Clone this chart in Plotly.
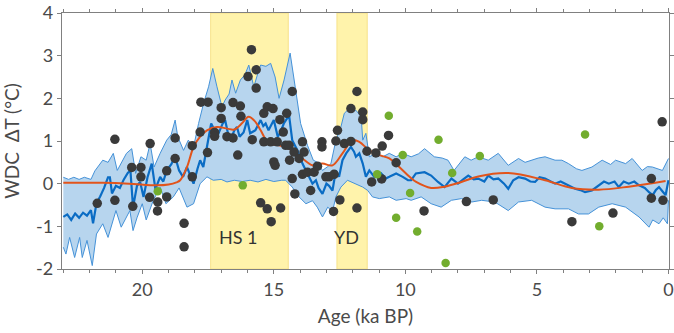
import plotly.graph_objects as go

# ---- blue mean line (age ka BP, dT) ----
mean_age = [23.0, 22.85, 22.7, 22.55, 22.4, 22.25, 22.1, 21.95, 21.87, 21.74, 21.6, 21.45, 21.3, 21.23, 21.15,
            21.0, 20.85, 20.7, 20.55, 20.45, 20.35, 20.2, 20.08, 19.95, 19.8, 19.64, 19.5, 19.32, 19.2, 19.07,
            18.9, 18.75, 18.6, 18.45, 18.3, 18.15, 18.05, 17.9, 17.8, 17.68, 17.55, 17.48, 17.38, 17.25, 17.1,
            16.95, 16.85, 16.75, 16.65, 16.5, 16.4, 16.3, 16.15, 16.01, 15.9, 15.7, 15.5, 15.4, 15.31, 15.2,
            15.0, 14.85, 14.75, 14.62, 14.42, 14.3, 14.1, 13.91, 13.72, 13.6, 13.53, 13.4, 13.3, 13.15, 13.0,
            12.9, 12.77, 12.64, 12.52, 12.39, 12.25, 12.07, 11.95, 11.88, 11.75, 11.62, 11.5, 11.37, 11.18, 10.92,
            10.75, 10.61, 10.35, 10.1, 9.9, 9.78, 9.6, 9.27, 9.02, 8.76, 8.51, 8.25, 8.0, 7.8, 7.61,
            7.4, 7.23, 7.0, 6.85, 6.65, 6.47, 6.25, 6.09, 5.9, 5.7, 5.45, 5.25, 5.07, 4.9, 4.69,
            4.5, 4.31, 4.1, 3.93, 3.75, 3.55, 3.35, 3.17, 2.91, 2.65, 2.45, 2.27, 2.05, 1.89, 1.7,
            1.51, 1.3, 1.12, 0.9, 0.74, 0.6, 0.48, 0.36, 0.2, 0.11, 0.0]
mean_val = [-0.78, -0.72, -0.85, -0.70, -0.80, -0.68, -0.75, -0.62, -0.93, -0.46, -0.30, -0.10, 0.15, 0.15, -0.23,
            -0.05, -0.10, 0.10, 0.25, 0.31, -0.55, -0.05, 0.04, -0.31, 0.15, 0.47, -0.13, 0.16, 0.05, 0.31,
            0.45, 0.63, 0.31, 0.16, 0.39, 0.15, 0.0, 0.35, 0.55, 0.39, 0.80, 1.02, 1.41, 1.25, 1.18,
            1.40, 1.49, 1.20, 1.02, 1.25, 1.33, 1.10, 1.20, 1.49, 1.18, 1.25, 1.49, 1.35, 1.41, 1.25,
            1.49, 1.10, 1.20, 1.41, 1.60, 1.02, 0.78, 0.47, 0.24, 0.10, 0.0, 0.08, -0.10, -0.24, 0.0,
            -0.05, -0.16, 0.31, 0.16, 0.55, 0.71, 0.86, 0.75, 0.63, 0.71, 0.47, 0.16, 0.31, 0.16, 0.24,
            0.12, 0.16, 0.24, 0.16, 0.08, 0.08, 0.24, 0.27, 0.19, 0.04, -0.08, 0.12, 0.0, 0.10, 0.19,
            0.10, 0.12, 0.05, 0.19, 0.10, 0.12, 0.0, -0.12, 0.08, 0.15, 0.12, 0.05, 0.04, 0.15, 0.12,
            0.05, 0.0, 0.05, 0.0, -0.05, -0.12, -0.15, -0.20, -0.16, -0.04, 0.05, 0.0, 0.05, -0.08, 0.05,
            0.0, 0.05, -0.04, -0.10, -0.20, -0.27, -0.15, -0.08, -0.20, -0.27, 0.08]

# ---- uncertainty band ----
up_age = [23.0, 22.8, 22.6, 22.4, 22.2, 21.95, 21.8, 21.5, 21.3, 21.1, 20.95, 20.75, 20.6, 20.4, 20.25,
          20.05, 19.85, 19.7, 19.55, 19.32, 19.07, 18.9, 18.75, 18.65, 18.43, 18.25, 18.05, 17.86, 17.67, 17.48,
          17.32, 17.16, 16.97, 16.85, 16.7, 16.59, 16.45, 16.27, 16.1, 15.95, 15.76, 15.6, 15.5, 15.3, 15.12,
          14.95, 14.8, 14.61, 14.38, 14.17, 13.98, 13.72, 13.5, 13.34, 13.15, 12.95, 12.83, 12.64, 12.45, 12.32,
          12.2, 11.88, 11.68, 11.62, 11.5, 11.37, 11.11, 10.86, 10.61, 10.35, 10.1, 9.78, 9.5, 9.27, 8.9,
          8.6, 8.38, 8.15, 7.74, 7.5, 7.23, 6.85, 6.47, 6.09, 5.7, 5.45, 5.2, 4.95, 4.69, 4.31,
          4.05, 3.8, 3.5, 3.29, 2.91, 2.52, 2.2, 2.01, 1.63, 1.38, 1.0, 0.8, 0.61, 0.23, 0.0]
up_val = [0.15, 0.10, 0.15, 0.10, 0.15, 0.10, 0.30, 0.55, 0.50, 0.71, 0.31, 0.55, 0.71, 0.82, 0.24,
          0.63, 0.55, 0.94, 0.39, 0.71, 1.02, 1.15, 1.49, 1.10, 0.78, 1.02, 0.86, 1.41, 1.88, 2.27,
          2.70, 2.27, 1.80, 1.96, 2.10, 2.43, 2.12, 2.43, 2.55, 2.78, 2.27, 2.60, 2.78, 2.75, 2.82,
          2.50, 2.00, 2.43, 3.06, 2.20, 1.41, 0.90, 0.55, 0.50, 0.31, 0.40, 0.47, 1.02, 1.33, 1.65,
          1.72, 1.72, 1.57, 1.02, 1.18, 0.63, 0.71, 0.63, 0.71, 0.63, 0.71, 0.63, 0.70, 0.82, 0.63,
          0.60, 0.55, 0.31, 0.63, 0.55, 0.63, 0.55, 0.71, 0.43, 0.59, 0.50, 0.55, 0.60, 0.63, 0.55,
          0.55, 0.47, 0.35, 0.31, 0.39, 0.55, 0.45, 0.55, 0.47, 0.59, 0.31, 0.40, 0.39, 0.31, 0.59]
lo_age = [23.0, 22.9, 22.76, 22.57, 22.38, 22.28, 22.1, 21.9, 21.74, 21.5, 21.3, 21.0, 20.8, 20.47, 20.35,
          20.2, 20.0, 19.85, 19.58, 19.32, 19.1, 18.82, 18.6, 18.3, 18.05, 17.8, 17.54, 17.3, 17.0, 16.78,
          16.5, 16.2, 15.9, 15.6, 15.3, 15.0, 14.7, 14.55, 14.3, 14.04, 13.78, 13.53, 13.35, 13.15, 12.95,
          12.77, 12.64, 12.45, 12.2, 11.88, 11.62, 11.43, 11.25, 10.99, 10.61, 10.35, 9.97, 9.78, 9.4, 9.02,
          8.64, 8.25, 7.87, 7.48, 7.1, 6.6, 6.09, 5.7, 5.2, 4.69, 4.31, 3.8, 3.42, 3.04, 2.65,
          2.14, 1.63, 1.12, 0.74, 0.6, 0.36, 0.2, 0.04, 0.0]
lo_val = [-1.49, -1.65, -1.26, -1.73, -1.26, -1.73, -1.33, -1.92, -1.18, -0.94, -1.26, -0.63, -1.02, -0.63, -1.10,
          -0.80, -0.47, -0.85, -0.39, -0.08, -0.47, -0.31, -0.10, -0.55, -0.47, 0.0, 0.16, 0.08, 0.10, 0.04,
          0.08, 0.05, 0.08, 0.04, 0.10, 0.05, 0.08, 0.08, -0.08, -0.31, -0.47, -0.40, -0.55, -0.78, -0.55,
          -0.65, -0.31, -0.08, 0.08, 0.0, -0.08, -0.16, -0.31, -0.35, -0.31, -0.39, -0.35, -0.39, -0.31, -0.47,
          -0.55, -0.39, -0.35, -0.43, -0.39, -0.43, -0.63, -0.43, -0.39, -0.55, -0.59, -0.59, -0.71, -0.71, -0.55,
          -0.47, -0.55, -0.78, -1.02, -0.85, -0.94, -0.80, -0.94, -0.39]

# ---- smooth red curve ----
red_age = [23.0, 21.5, 20.5, 19.45, 19.0, 18.7, 18.56, 18.3, 18.05, 17.8, 17.54, 17.16, 16.77, 16.5, 16.2,
           15.96, 15.7, 15.5, 15.18, 14.8, 14.42, 14.17, 13.91, 13.53, 13.15, 12.77, 12.39, 12.0, 11.75, 11.37,
           10.99, 10.61, 10.23, 9.84, 9.59, 9.02, 8.51, 7.87, 7.23, 6.09, 4.69, 3.67, 2.65, 1.51, 0.11]
red_val = [0.02, 0.02, 0.0, -0.04, -0.02, 0.03, 0.08, 0.39, 0.86, 1.10, 1.25, 1.33, 1.29, 1.27, 1.42,
           1.57, 1.45, 1.25, 0.94, 0.90, 0.82, 0.71, 0.59, 0.43, 0.47, 0.43, 0.71, 1.02, 0.98, 0.78,
           0.67, 0.59, 0.39, 0.16, 0.04, -0.10, -0.07, 0.04, 0.17, 0.25, 0.08, -0.10, -0.14, -0.07, 0.06]

# ---- dark grey proxy points ----
grey_age = [21.71, 21.04, 21.04, 20.40, 20.05, 20.05, 20.36, 19.70, 19.72, 19.41, 19.42, 19.07, 19.07, 18.75, 18.75,
            18.41, 18.41, 18.10, 18.10, 17.80, 17.77, 17.50, 17.52, 17.25, 17.25, 17.00, 17.00, 16.78, 16.55, 16.55,
            16.37, 16.27, 16.25, 15.98, 15.85, 15.67, 15.67, 15.82, 15.38, 15.25, 15.03, 15.38, 15.12, 14.87, 14.77,
            14.64, 14.51, 14.30, 15.00, 14.95, 14.55, 14.42, 14.40, 14.23, 13.91, 13.85, 14.04, 14.30, 14.20, 13.91,
            13.72, 13.47, 13.60, 13.34, 13.17, 13.17, 13.02, 12.90, 12.71, 12.73, 12.49, 12.64, 12.58, 12.32, 12.07,
            12.07, 11.84, 11.62, 11.62, 11.84, 11.46, 11.12, 10.88, 10.64, 11.28, 10.90, 10.35, 15.50, 15.25, 15.10,
            14.74, 9.29, 7.68, 6.66, 3.67, 2.11, 0.65, 0.65, 0.21, 0.24]
grey_val = [-0.46, 1.04, -0.39, 0.38, 0.38, 0.16, -0.53, 0.94, -0.32, -0.43, -0.64, -0.31, 0.30, 1.07, 0.59,
            -0.93, -1.48, 0.89, 0.16, 1.21, 1.91, 1.91, 0.73, 1.20, 1.11, 1.78, 1.53, 1.10, 1.90, 1.07,
            0.67, 1.82, 1.58, 2.51, 3.14, 2.67, 2.24, 1.03, 1.65, 1.80, 1.76, 0.98, 0.98, 0.98, 1.50,
            1.21, 1.65, 2.16, 0.51, 0.43, 0.90, 0.90, 0.55, 0.74, 0.98, 0.74, 0.59, 0.12, -0.24, 0.22,
            0.27, 0.27, -0.16, 0.41, 0.98, 0.86, 0.16, 0.16, 0.22, -0.65, -0.38, 1.00, 1.25, 0.94, 0.99,
            1.76, 2.16, 1.68, 1.50, -0.57, 0.76, 0.72, 0.88, 1.13, 0.04, 0.11, 0.49, -0.45, -0.59, -0.89,
            -0.57, -0.64, -0.42, -0.38, -0.89, -0.69, 0.12, -0.34, -0.39, 1.45]

# ---- green proxy points ----
green_age = [19.41, 16.18, 10.63, 10.10, 8.74, 7.17, 3.17, 11.07, 9.82, 10.35, 9.55, 8.22, 8.47, 2.63]
green_val = [-0.18, -0.04, 1.59, 0.67, 1.03, 0.65, 1.15, 0.22, -0.22, -0.80, -1.12, 0.25, -1.86, -1.00]

# ---- event bands and labels ----
event_names = ["HS 1", "YD"]
event_start = [17.4, 12.6]
event_end = [14.45, 11.45]
event_label_x = [16.35, 12.25]
event_label_y = [-1.26, -1.26]

y_ticks = [-2, -1, 0, 1, 2, 3, 4]
y_ticktext = ["-2", "-1", "0", "1", "2", "3", "4"]

FONT = "Lato"
TXT = "#4a4a4a"
AX = "#808080"

fig = go.Figure()

# band polygon
fig.add_trace(go.Scatter(x=up_age + lo_age[::-1], y=up_val + lo_val[::-1], fill="toself",
                         fillcolor="#b7d5ee", line=dict(width=0), mode="lines",
                         hoverinfo="skip", showlegend=False))
fig.add_trace(go.Scatter(x=up_age, y=up_val, mode="lines", line=dict(color="#4592d8", width=1),
                         showlegend=False))
fig.add_trace(go.Scatter(x=lo_age, y=lo_val, mode="lines", line=dict(color="#4592d8", width=1),
                         showlegend=False))
fig.add_trace(go.Scatter(x=mean_age, y=mean_val, mode="lines", line=dict(color="#0a6cc4", width=2.2),
                         showlegend=False))
fig.add_trace(go.Scatter(x=red_age, y=red_val, mode="lines", line=dict(color="#e2541b", width=2, shape="spline"),
                         showlegend=False))
fig.add_trace(go.Scatter(x=grey_age, y=grey_val, mode="markers",
                         marker=dict(color="#3a3a3a", size=9.5, line=dict(width=0)), showlegend=False))
fig.add_trace(go.Scatter(x=green_age, y=green_val, mode="markers",
                         marker=dict(color="#72ad2e", size=8.5, line=dict(width=0)), showlegend=False))

for name, x0, x1, lx, ly in zip(event_names, event_start, event_end, event_label_x, event_label_y):
    fig.add_shape(type="rect", xref="x", yref="y", x0=x0, x1=x1, y0=-2, y1=4,
                  fillcolor="#fff3ab", line=dict(color="#f7e28a", width=1), layer="below")
    fig.add_annotation(x=lx, y=ly, text=name, showarrow=False, xref="x", yref="y",
                       font=dict(family=FONT, size=18, color="#333333"))

fig.update_layout(
    width=674, height=333,
    margin=dict(l=62, r=5, t=13, b=64, autoexpand=False),
    paper_bgcolor="white", plot_bgcolor="white",
    font=dict(family=FONT, size=17, color=TXT),
    xaxis=dict(range=[23.05, -0.02], tickmode="linear", tick0=0, dtick=5, automargin=False,
               ticks="outside", ticklen=4, tickcolor=AX, tickwidth=1,
               minor=dict(dtick=1, tick0=0, ticks="outside", ticklen=3, tickcolor=AX),
               showline=True, linecolor=AX, linewidth=1.3, mirror="ticks",
               showgrid=False, zeroline=False,
               title=dict(text="Age (ka BP)", standoff=10, font=dict(size=19, color=TXT)),
               tickfont=dict(size=18, color=TXT)),
    yaxis=dict(range=[-2, 4], tickmode="array", tickvals=y_ticks, ticktext=y_ticktext, automargin=False,
               ticks="outside", ticklen=4, tickcolor=AX, tickwidth=1,
               showline=True, linecolor=AX, linewidth=1.3, mirror="ticks",
               showgrid=False, zeroline=False,
               title=dict(text="WDC\u00a0\u00a0ΔT (°C)", standoff=12, font=dict(size=19, color=TXT)),
               tickfont=dict(size=18, color=TXT)),
)

fig.write_html("out.html", config={"displayModeBar": False},
               post_script="document.body.style.margin='0px';")
